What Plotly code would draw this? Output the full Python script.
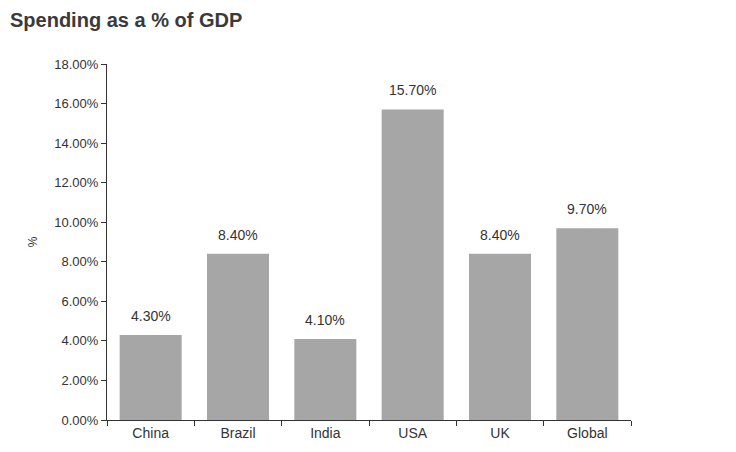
import plotly.graph_objects as go

# Health spending as a share of GDP
countries = ["China", "Brazil", "India", "USA", "UK", "Global"]
spending_pct = [4.30, 8.40, 4.10, 15.70, 8.40, 9.70]
y_ticks = [0, 2, 4, 6, 8, 10, 12, 14, 16, 18]
y_tick_labels = [f"{v:.2f}%" for v in y_ticks]

FONT = "Liberation Sans, Arial, sans-serif"
TEXT = "#333333"
BAR = "#a6a6a6"

fig = go.Figure(
    go.Bar(
        x=countries,
        y=spending_pct,
        marker=dict(color=BAR, line=dict(width=0)),
        hoverinfo="x+y",
    )
)

# value labels above each bar
for c, v in zip(countries, spending_pct):
    fig.add_annotation(
        x=c, y=v, text=f"{v:.2f}%", showarrow=False,
        yshift=19, font=dict(family=FONT, size=14, color=TEXT),
    )

fig.update_layout(
    width=736, height=452,
    margin=dict(l=107, r=105, t=64, b=32),
    paper_bgcolor="white", plot_bgcolor="white",
    bargap=0.29,
    showlegend=False,
    title=dict(
        text="<b>Spending as a % of GDP</b>",
        x=10 / 736, xref="container", xanchor="left",
        y=0.955, yanchor="middle",
        font=dict(family=FONT, size=20, color="#3a3a3a"),
    ),
    font=dict(family=FONT, size=12, color=TEXT),
)

fig.update_xaxes(
    showline=True, linecolor="#333333", linewidth=1,
    ticks="outside", tickson="boundaries", ticklen=5, tickcolor="#333333",
    tickfont=dict(family=FONT, size=14, color=TEXT),
    showgrid=False, zeroline=False,
)
fig.update_yaxes(
    range=[0, 18],
    tickvals=y_ticks, ticktext=y_tick_labels,
    showline=True, linecolor="#333333", linewidth=1,
    ticks="outside", ticklen=5, tickcolor="#333333",
    tickfont=dict(family=FONT, size=13, color=TEXT),
    showgrid=False, zeroline=False,
    title=dict(text="%", standoff=14, font=dict(family=FONT, size=12, color=TEXT)),
)

fig.write_html("out.html")
